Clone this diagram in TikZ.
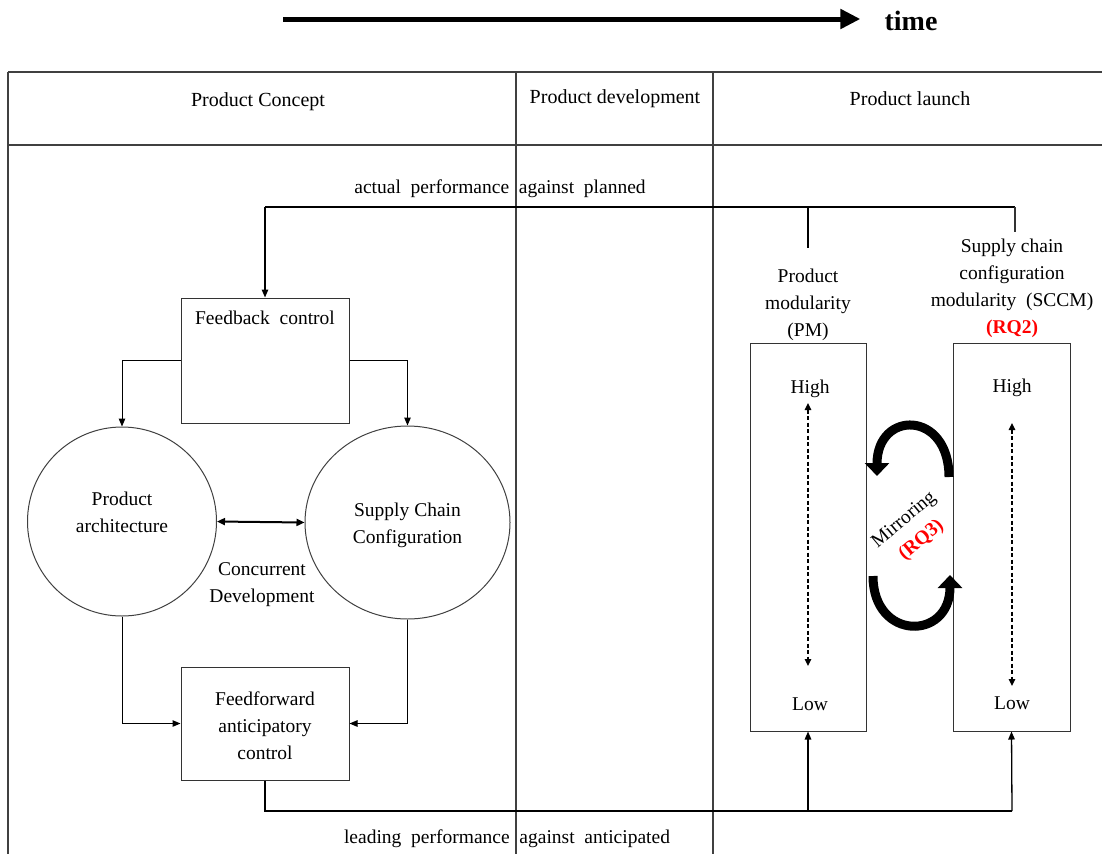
\documentclass[tikz,border=0pt]{standalone}
\usepackage{fontspec}
\setmainfont{Liberation Serif}
\usetikzlibrary{arrows.meta,shapes.geometric}

\begin{document}
\begin{tikzpicture}[x=1pt,y=-1pt,
  gridline/.style={draw=black!75,line width=1.2pt},
  box/.style={draw=black!80,line width=1pt,inner sep=0pt},
  txt/.style={font=\fontsize{19.5}{27}\selectfont,align=center,inner sep=0pt,yshift=-2.5pt},
  head/.style={font=\fontsize{20}{24}\selectfont,align=center,inner sep=0pt,yshift=-2pt},
  arr/.style={-{Triangle[length=8pt,width=6.5pt]},line width=1pt},
  link/.style={line width=2pt},
  levelaxis/.style={{Triangle[length=7pt,width=6.5pt]}-{Triangle[length=7pt,width=6.5pt]},
    line width=1.3pt,dash pattern=on 4pt off 2.5pt},
  mirror/.style={line width=9pt,-{Triangle[length=13pt,width=24pt]}},
]
\useasboundingbox (0,0) rectangle (1102,854);

% time axis
\node[font=\fontsize{28}{32}\selectfont\bfseries,inner sep=0pt] (time) at (911,21) {time};
\coordinate (tstart) at (283,19);
\draw[line width=5pt,-{Triangle[length=20pt,width=19pt]},shorten >=24pt] (tstart) -- (time.west |- tstart);

% phase table
\draw[gridline] (8,72) -- (1102,72);
\draw[gridline,line width=2.4pt] (8,145) -- (516,145);
\draw[gridline] (516,145) -- (1102,145);
\draw[gridline] (8,72) -- (8,854);
\draw[gridline] (516,72) -- (516,854);
\draw[gridline,line width=2pt] (516,72) -- (516,145);
\draw[gridline] (713,72) -- (713,854);
\node[head] (hconcept) at (258,100) {Product Concept};
\node[head] (hdev) at (615,97) {Product development};
\node[head] (hlaunch) at (910,97) {Product launch};

% concept phase
\node[box,minimum width=168pt,minimum height=125pt,
  label={[txt,anchor=north,yshift=-11pt]north:Feedback\ \ control}] (fb) at (265,360.5) {};
\node[draw=black!75,line width=1pt,circle,minimum size=189pt,inner sep=0pt,
  label={[txt,yshift=12pt]center:Product\\architecture}] (pa) at (122,521.5) {};
\node[draw=black!75,line width=1pt,ellipse,minimum width=205pt,minimum height=193pt,
  inner sep=0pt] (scc) at (407.5,522.5) {};
\node[txt] (scctext) at (scc.center) {Supply Chain\\Configuration};
\node[txt] (cd) at (262,582.5) {Concurrent\\Development};
\node[box,minimum width=168pt,minimum height=113pt] (ff) at (265,723.5) {};
\node[txt] (fftext) at (ff.center) {Feedforward\\anticipatory\\control};

\draw[arr] (fb.west) -| (pa.north);
\draw[arr] (fb.east) -| (scc.north);
\draw[{Triangle[length=8pt,width=7pt]}-{Triangle[length=8pt,width=7pt]},line width=2pt] (pa.east) -- (scc.west);
\draw[arr] (pa.south) |- (ff.west);
\draw[arr] (scc.south) |- (ff.east);

% launch phase
\node[txt] (pmlab) at (808,302.5) {Product\\modularity\\(PM)};
\node[txt] (sccmlab) at (1012,285.5) {Supply chain\\configuration\\modularity\ \ (SCCM)\\{\bfseries\color{red}(RQ2)}};
\node[box,minimum width=116pt,minimum height=388pt] (pm) at (808,537) {};
\node[box,minimum width=117pt,minimum height=388pt] (sccm) at (1011.5,537) {};
\node[txt] (pmhigh) at (810,386) {High};
\node[txt] (pmlow) at (810,702) {Low};
\node[txt] (sccmhigh) at (1012,385) {High};
\node[txt] (sccmlow) at (1012,701) {Low};
\coordinate (pmtop) at (808,403);
\coordinate (pmbot) at (808,666);
\coordinate (sccmtop) at (1012,423);
\coordinate (sccmbot) at (1012,686);
\draw[levelaxis] (pmtop) -- (pmbot);
\draw[levelaxis] (sccmtop) -- (sccmbot);

% mirroring loop
\coordinate (m1) at (949,477);
\coordinate (m2) at (877,476);
\coordinate (m3) at (873,576);
\coordinate (m4) at (950,575);
\draw[mirror] (m1) .. controls (949,410) and (877,410) .. (m2);
\draw[mirror] (m3) .. controls (873,641) and (950,641) .. (m4);
\node[txt,rotate=40] (mir) at (913,528) {Mirroring\\{\bfseries\color{red}(RQ3)}};

% feedback loop: actual performance against planned
\node[txt] (actual) at (500,186) {actual\ \ performance\ \ against\ \ planned};
\coordinate (fbcorner) at (265,207);
\coordinate (pmtap) at (808,207);
\coordinate (pmend) at (808,248);
\coordinate (sccmtap) at (1015,207);
\coordinate (sccmend) at (1015,232);
\draw[link] (fbcorner) -- (sccmtap);
\draw[line width=1.3pt,draw=black!80] (sccmtap) -- (sccmend);
\draw[link] (pmtap) -- (pmend);
\draw[arr,line width=1.3pt] (fbcorner) -- (fb.north);

% feedforward loop: leading performance against anticipated
\node[txt] (leading) at (507,836) {leading\ \ performance\ \ against\ \ anticipated};
\coordinate (pmfoot) at (808,811);
\coordinate (sccmfoot) at (1012,811);
\draw[link] (ff.south) |- (sccmfoot);
\draw[arr,line width=1.3pt] (pmfoot) -- (pm.south);
\draw[arr,line width=1.3pt] (sccmfoot) -- (sccm.south);
\end{tikzpicture}
\end{document}
